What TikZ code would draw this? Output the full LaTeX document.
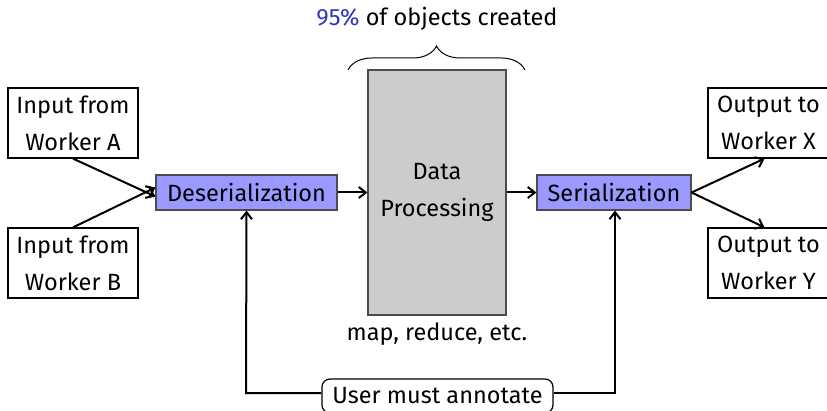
\documentclass[tikz,border=0pt]{standalone}
\usepackage{fontspec}
\setmainfont{Fira Sans}
\usetikzlibrary{arrows.meta,decorations.pathreplacing,calc}
\definecolor{blu}{HTML}{9999FF}
\definecolor{pct}{HTML}{3333BB}
\tikzset{
  wbox/.style={draw=black, fill=white, line width=1.2pt, minimum width=130pt, minimum height=70pt, align=center, inner sep=0pt, font=\fontsize{23.5}{37}\selectfont},
  sbox/.style={draw=black!70, fill=blu, line width=1.2pt, minimum height=35pt, inner sep=0pt, font=\fontsize{23.5}{26}\selectfont},
  conn/.style={-{Straight Barb[length=7pt,width=11pt]}, line width=2pt},
  lbl/.style={font=\fontsize{23.5}{26}\selectfont, inner sep=0pt}
}
\begin{document}
\begin{tikzpicture}[x=1pt,y=-1pt]
\useasboundingbox (0,0) rectangle (827,411);
\node[wbox] (ina) at (73,123) {Input from\\Worker A};
\node[wbox] (inb) at (73,263) {Input from\\Worker B};
\node[sbox, minimum width=181pt] (des) at (246.5,192.5) {Deserialization};
\node[draw=black!70, fill=black!20, line width=1.2pt, minimum width=138pt, minimum height=245pt, inner sep=0pt, align=center, font=\fontsize{23.5}{37}\selectfont] (dp) at (437,192.5) {Data\\Processing};
\node[sbox, minimum width=154pt] (ser) at (614,192.5) {Serialization};
\node[wbox, minimum width=121pt] (outx) at (768.5,123) {Output to\\Worker X};
\node[wbox, minimum width=121pt] (outy) at (768.5,263) {Output to\\Worker Y};
\node[lbl] (top) at (437,19) {\textcolor{pct}{95\%} of objects created};
\node[lbl] (mre) at (437,334) {map, reduce, etc.};
\draw[line width=1pt, decorate, decoration={brace, amplitude=24pt, aspect=0.5}] (348,70) -- (525,70);
\draw[conn] (ina.south) -- ([yshift=-4]des.west);
\draw[conn] (inb.north) -- ([yshift=5]des.west);
\draw[conn] (des) -- (dp);
\draw[conn] (dp) -- (ser);
\draw[conn] (ser.east) -- ($(outx.south)+(-4,0)$);
\draw[conn] (ser.east) -- ($(outy.north)+(-4,0)$);
\node[draw=black, rounded corners=8pt, fill=white, line width=1.2pt, minimum width=231pt, minimum height=34pt, inner sep=0pt, font=\fontsize{23.5}{26}\selectfont] (ann) at (437.5,396) {User must annotate};
\coordinate (bl) at (246,393);
\coordinate (br) at (615,393);
\draw[conn] (ann.west |- bl) -- (bl) -- (des.south);
\draw[conn] (ann.east |- br) -- (br) -- (ser.south -| br);
\end{tikzpicture}
\end{document}
